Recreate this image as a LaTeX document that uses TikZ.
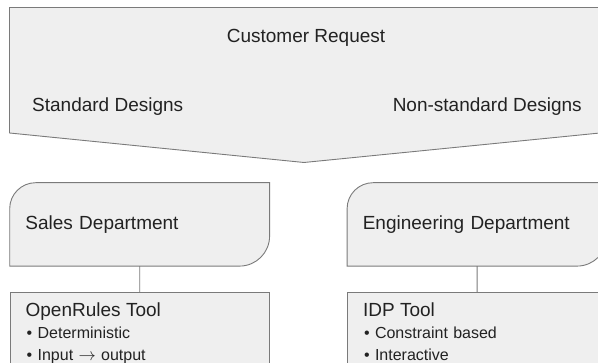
\documentclass[tikz,border=0pt]{standalone}
\usepackage{fontspec}
\setmainfont{Liberation Sans}
\usetikzlibrary{
  matrix,
  chains,
  scopes,
  positioning,
  backgrounds
}
\definecolor{boxfill}{HTML}{EFEFEF}
\definecolor{boxline}{HTML}{7A7A7A}
\definecolor{ink}{HTML}{222222}
\newcommand\tooldot[1]{\makebox[12pt][l]{\hspace{1pt}•}#1}

\begin{document}
\begin{tikzpicture}[x=1pt,y=1pt,
      every node/.style={text=ink},
      banner/.style={
         fill=boxfill,
         draw=boxline,
         line width=0.9pt
      },
      bannertext/.style={
         inner sep=0pt,
         font=\fontsize{19}{22}\selectfont
      },
      department/.style={
         rectangle,
         minimum height=83pt,
         text width=228.5pt,
         inner xsep=15.5pt,
         align=left,
         font=\fontsize{19}{22}\selectfont
      },
      tool/.style={
         rectangle,
         draw=boxline,fill=boxfill,line width=0.9pt,
         text width=228.5pt,
         inner xsep=15.5pt,inner ysep=10pt,
         text depth=75pt,
         align=left,
         font=\fontsize{16}{22}\selectfont
      },
      deptline/.style={fill=boxfill,draw=boxline,line width=0.9pt},
      every join/.style={draw=boxline,line width=0.9pt}
    ]
    \useasboundingbox (0,0) rectangle (598,363);
    % the request banner
    \coordinate (bannerNW) at (9.5,355.5);
    \coordinate (bannerNE) at (600,355.5);
    \coordinate (bannerSE) at (600,230);
    \coordinate (bannerTip) at (304,200.5);
    \coordinate (bannerSW) at (9.5,230);
    \draw[banner] (bannerNW) -- (bannerNE) -- (bannerSE) -- (bannerTip) -- (bannerSW) -- cycle;
    \node (request) [bannertext, anchor=base] at (306,320) {Customer Request};
    \node (standard) [bannertext, anchor=base west] at (32,251) {Standard Designs};
    \node (nonstandard) [bannertext, anchor=base east] at (582,251) {Non-standard Designs};
    \matrix (boxes) [column sep=77pt, row sep=26.5pt, inner sep=0pt, anchor=north west] at (9.5,180.5) {
 \node (sales) [department] {Sales Department}; & \node (engineering) [department] {Engineering Department}; \\
 \node (openrules) [tool] {{\fontsize{19}{22}\selectfont OpenRules Tool}\\ \tooldot{Deterministic}\\ \tooldot{Input \(\rightarrow\) output}}; &
 \node (idp) [tool] {{\fontsize{19}{22}\selectfont IDP Tool}\\ \tooldot{Constraint based}\\ \tooldot{Interactive}}; \\
    };
  { [start chain]
       \chainin (sales);
       \chainin (openrules)    [join];
  }
  { [start chain]
       \chainin (engineering);
       \chainin (idp)    [join];
  }
    \begin{scope}[on background layer]
      \foreach \d in {sales,engineering}
        \draw[deptline] (\d.south west) -- ([yshift=-26pt]\d.north west)
          arc[start angle=180,end angle=90,radius=26pt] -- (\d.north east)
          -- ([yshift=30pt]\d.south east)
          arc[start angle=0,end angle=-90,radius=30pt] -- cycle;
    \end{scope}
\end{tikzpicture}
\end{document}
